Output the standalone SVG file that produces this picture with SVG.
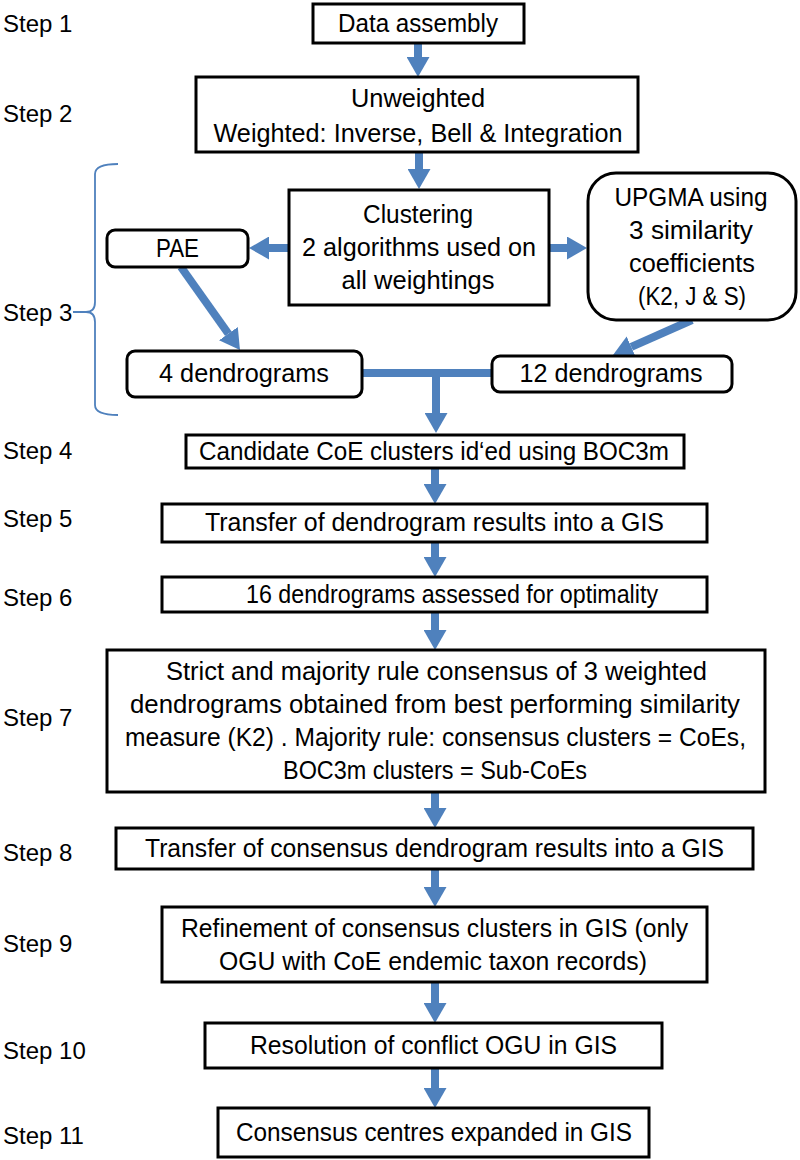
<svg xmlns="http://www.w3.org/2000/svg" width="800" height="1160" viewBox="0 0 800 1160">
<style>
.box{fill:#fff;stroke:#000;stroke-width:3}
.t{font-family:"Liberation Sans",Arial,sans-serif;font-size:25px;fill:#000;text-anchor:middle}
.s{font-family:"Liberation Sans",Arial,sans-serif;font-size:24px;fill:#000}
.c{stroke:#4F81BD;stroke-width:8;fill:none}
.br{stroke:#4F81BD;stroke-width:1.8;fill:none}
</style>
<defs>
<marker id="ah" markerUnits="userSpaceOnUse" viewBox="0 0 20 23" refX="0" refY="11.5" markerWidth="20" markerHeight="23" orient="auto">
<path d="M0,0 L20,11.5 L0,23 Z" fill="#4F81BD"/>
</marker>
</defs>
<g id="labels">
<text class="s" x="3" y="32">Step 1</text>
<text class="s" x="3" y="122">Step 2</text>
<text class="s" x="3" y="321">Step 3</text>
<text class="s" x="3" y="459">Step 4</text>
<text class="s" x="3" y="527">Step 5</text>
<text class="s" x="3" y="606">Step 6</text>
<text class="s" x="3" y="726">Step 7</text>
<text class="s" x="3" y="861">Step 8</text>
<text class="s" x="3" y="952">Step 9</text>
<text class="s" x="3" y="1059">Step 10</text>
<text class="s" x="3" y="1144">Step 11</text>
</g>
<g id="bracket">
<path class="br" d="M118,164 Q95,164 95,174 L95,302 Q95,312 86,312 Q95,312 95,322 L95,405 Q95,415 118,415 M73,312 L86,312"/>
</g>
<g id="connectors">
<line class="c" x1="418" y1="43" x2="418" y2="57" marker-end="url(#ah)"/>
<line class="c" x1="419" y1="152" x2="419" y2="169" marker-end="url(#ah)"/>
<line class="c" x1="289" y1="248" x2="269" y2="248" marker-end="url(#ah)"/>
<line class="c" x1="549" y1="248" x2="567" y2="248" marker-end="url(#ah)"/>
<line class="c" x1="181" y1="267" x2="228.4" y2="333.7" marker-end="url(#ah)"/>
<line class="c" x1="692" y1="320" x2="631.3" y2="346.9" marker-end="url(#ah)"/>
<line class="c" x1="362" y1="373" x2="492" y2="373"/>
<line class="c" x1="436" y1="373" x2="436" y2="413" marker-end="url(#ah)"/>
<line class="c" x1="435" y1="468" x2="435" y2="484" marker-end="url(#ah)"/>
<line class="c" x1="435" y1="542" x2="435" y2="557" marker-end="url(#ah)"/>
<line class="c" x1="435" y1="612" x2="435" y2="630" marker-end="url(#ah)"/>
<line class="c" x1="435" y1="792" x2="435" y2="808" marker-end="url(#ah)"/>
<line class="c" x1="435" y1="869" x2="435" y2="887" marker-end="url(#ah)"/>
<line class="c" x1="435" y1="982" x2="435" y2="1003" marker-end="url(#ah)"/>
<line class="c" x1="435" y1="1068" x2="435" y2="1088" marker-end="url(#ah)"/>
</g>
<g id="n1"><rect class="box" x="313" y="4" width="211" height="39"/><text class="t" x="418" y="32" textLength="160" lengthAdjust="spacingAndGlyphs">Data assembly</text></g>
<g id="n2"><rect class="box" x="196" y="77" width="442" height="75"/>
<text class="t" x="418" y="107" textLength="134" lengthAdjust="spacingAndGlyphs">Unweighted</text>
<text class="t" x="418" y="142" textLength="409" lengthAdjust="spacingAndGlyphs">Weighted: Inverse, Bell &amp; Integration</text></g>
<g id="n3"><rect class="box" x="289" y="190" width="260" height="115"/>
<text class="t" x="418" y="223" textLength="110" lengthAdjust="spacingAndGlyphs">Clustering</text>
<text class="t" x="419" y="256" textLength="234" lengthAdjust="spacingAndGlyphs">2 algorithms used on</text>
<text class="t" x="418" y="289" textLength="153" lengthAdjust="spacingAndGlyphs">all weightings</text></g>
<g id="n4"><rect class="box" x="107" y="230" width="141" height="37" rx="8"/><text class="t" x="177.5" y="257" textLength="43" lengthAdjust="spacingAndGlyphs">PAE</text></g>
<g id="n5"><rect class="box" x="588" y="173" width="208" height="147" rx="28"/>
<text class="t" x="691" y="206" textLength="153" lengthAdjust="spacingAndGlyphs">UPGMA using</text>
<text class="t" x="691" y="239" textLength="124" lengthAdjust="spacingAndGlyphs">3 similarity</text>
<text class="t" x="692" y="272" textLength="126" lengthAdjust="spacingAndGlyphs">coefficients</text>
<text class="t" x="692" y="305" textLength="108" lengthAdjust="spacingAndGlyphs">(K2, J &amp; S)</text></g>
<g id="n6"><rect class="box" x="127" y="351" width="235" height="46" rx="8"/><text class="t" x="244" y="382" textLength="170" lengthAdjust="spacingAndGlyphs">4 dendrograms</text></g>
<g id="n7"><rect class="box" x="492" y="356" width="240" height="36" rx="8"/><text class="t" x="611" y="382" textLength="183" lengthAdjust="spacingAndGlyphs">12 dendrograms</text></g>
<g id="n8"><rect class="box" x="186" y="435" width="498" height="33"/><text class="t" x="434" y="460" textLength="470" lengthAdjust="spacingAndGlyphs">Candidate CoE clusters id‘ed using BOC3m</text></g>
<g id="n9"><rect class="box" x="162" y="504" width="545" height="38"/><text class="t" x="434.5" y="531" textLength="459" lengthAdjust="spacingAndGlyphs">Transfer of dendrogram results into a GIS</text></g>
<g id="n10"><rect class="box" x="162" y="577" width="545" height="35"/><text class="t" x="452" y="603" textLength="412" lengthAdjust="spacingAndGlyphs">16 dendrograms assessed for optimality</text></g>
<g id="n11"><rect class="box" x="107" y="650" width="658" height="142"/>
<text class="t" x="436.5" y="680" textLength="541" lengthAdjust="spacingAndGlyphs">Strict and majority rule consensus of 3 weighted</text>
<text class="t" x="435" y="713" textLength="610" lengthAdjust="spacingAndGlyphs">dendrograms obtained from best performing similarity</text>
<text class="t" x="435.5" y="746" textLength="621" lengthAdjust="spacingAndGlyphs">measure (K2) . Majority rule: consensus clusters = CoEs,</text>
<text class="t" x="435" y="779" textLength="304" lengthAdjust="spacingAndGlyphs">BOC3m clusters = Sub-CoEs</text></g>
<g id="n12"><rect class="box" x="116" y="828" width="637" height="41"/><text class="t" x="434.5" y="857" textLength="579" lengthAdjust="spacingAndGlyphs">Transfer of consensus dendrogram results into a GIS</text></g>
<g id="n13"><rect class="box" x="162" y="907" width="545" height="75"/>
<text class="t" x="434.5" y="937" textLength="507" lengthAdjust="spacingAndGlyphs">Refinement of consensus clusters in GIS (only</text>
<text class="t" x="433" y="970" textLength="428" lengthAdjust="spacingAndGlyphs">OGU with CoE endemic taxon records)</text></g>
<g id="n14"><rect class="box" x="205" y="1023" width="457" height="45"/><text class="t" x="433.5" y="1054" textLength="367" lengthAdjust="spacingAndGlyphs">Resolution of conflict OGU in GIS</text></g>
<g id="n15"><rect class="box" x="218" y="1108" width="431" height="49"/><text class="t" x="434" y="1141" textLength="396" lengthAdjust="spacingAndGlyphs">Consensus centres expanded in GIS</text></g>
</svg>
